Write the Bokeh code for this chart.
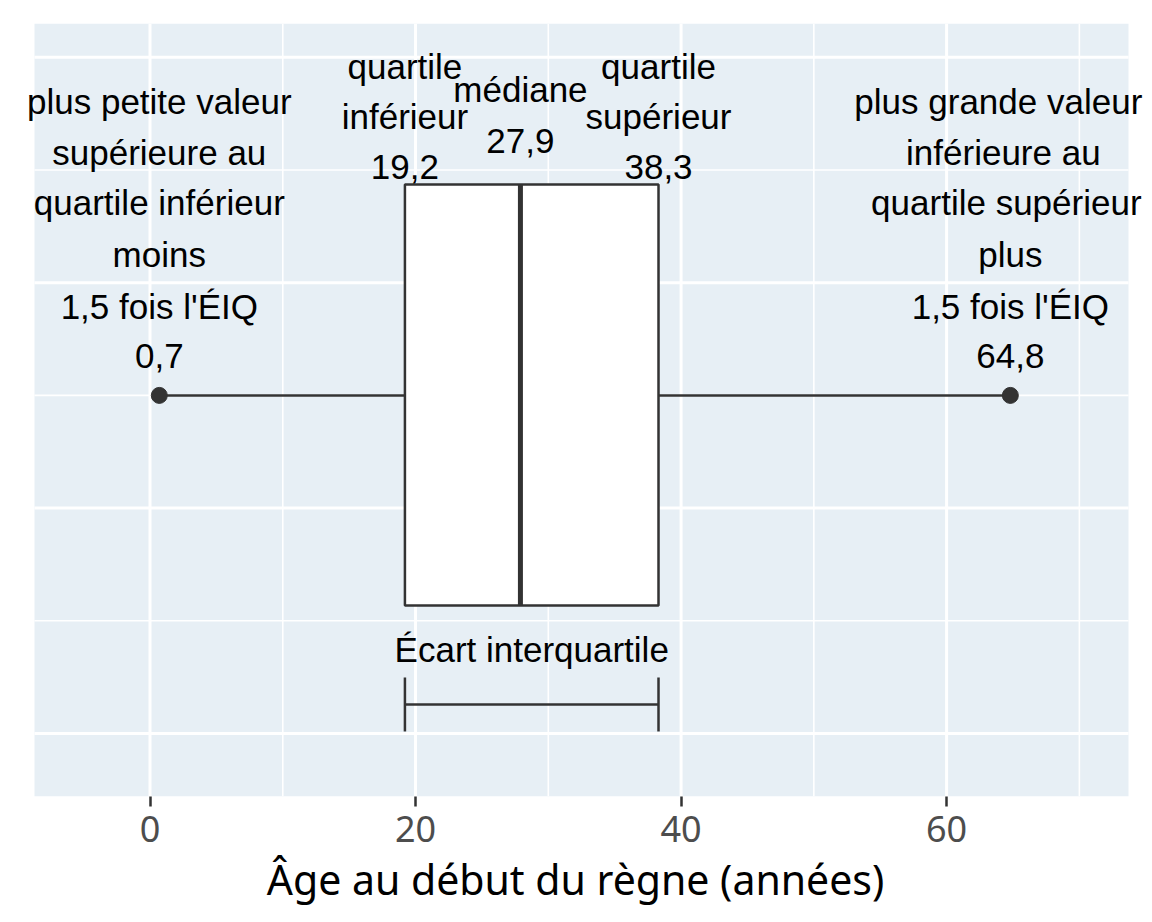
from bokeh.plotting import figure
from bokeh.models import FixedTicker, Range1d, Label
from bokeh.embed import file_html
from bokeh.resources import INLINE

# --- data ---
stat_names = ["min_whisker", "q1", "median", "q3", "max_whisker"]
stat_values = [0.7, 19.2, 27.9, 38.3, 64.8]
x_ticks = [0, 20, 40, 60]
x_minor = [10, 30, 50, 70]
y_major = [0, 2, 4, 6]
y_minor = [1, 3, 5]
x_label = "Âge au début du règne (années)"
lo_lines = ["plus petite valeur", "supérieure au", "quartile inférieur", "moins", "1,5 fois l'ÉIQ"]
hi_lines = ["plus grande valeur", "inférieure au", "quartile supérieur", "plus", "1,5 fois l'ÉIQ"]
q1_lines = ["quartile", "inférieur"]
med_lines = ["médiane"]
q3_lines = ["quartile", "supérieur"]
iqr_label = "Écart interquartile"

wlo, q1, med, q3, whi = stat_values
fmt = lambda v: f"{v:.1f}".replace(".", ",")

# panel extent (data units) and the wider drawing frame, so labels may overflow the panel
PX0, PX1, PY0, PY1 = -8.7, 73.7, -0.559, 6.30
scale = 1094 / (PX1 - PX0)
FX0 = PX0 - 33 / scale
FX1 = PX1 + 21 / scale

W, H = 1150, 914
p = figure(width=W, height=H, output_backend="svg", toolbar_location=None,
           x_range=Range1d(FX0, FX1), y_range=Range1d(PY0, PY1),
           min_border_left=1, min_border_right=1, min_border_top=23, min_border_bottom=118)
p.background_fill_color = "white"
p.border_fill_color = "white"
p.outline_line_color = None
p.xgrid.visible = False
p.ygrid.visible = False

# panel background and grid
p.quad(left=[PX0], right=[PX1], bottom=[PY0], top=[PY1], fill_color="#E7EFF5", line_color=None)
p.segment(x0=x_ticks, y0=[PY0] * len(x_ticks), x1=x_ticks, y1=[PY1] * len(x_ticks),
          line_color="white", line_width=3)
p.segment(x0=x_minor, y0=[PY0] * len(x_minor), x1=x_minor, y1=[PY1] * len(x_minor),
          line_color="white", line_width=1.6)
p.segment(x0=[PX0] * len(y_major), y0=y_major, x1=[PX1] * len(y_major), y1=y_major,
          line_color="white", line_width=3)
p.segment(x0=[PX0] * len(y_minor), y0=y_minor, x1=[PX1] * len(y_minor), y1=y_minor,
          line_color="white", line_width=1.6)

p.yaxis.visible = False
ax = p.xaxis[0]
ax.ticker = FixedTicker(ticks=x_ticks)
ax.axis_line_color = None
ax.major_tick_line_color = "#333333"
ax.major_tick_line_width = 2.5
ax.major_tick_out = 10
ax.major_tick_in = 0
ax.minor_tick_line_color = None
ax.major_label_text_font = "Noto Sans"
ax.major_label_text_font_size = "36px"
ax.major_label_text_color = "#4D4D4D"
ax.major_label_standoff = 9
ax.axis_label = x_label
ax.axis_label_text_font = "Noto Sans"
ax.axis_label_text_font_size = "41px"
ax.axis_label_text_font_style = "normal"
ax.axis_label_text_color = "black"
ax.axis_label_standoff = 6

line_col = "#333333"
box_bottom, box_top, yc = 1.136, 4.871, 3.0

# whiskers
p.segment(x0=[wlo, q3], y0=[yc, yc], x1=[q1, whi], y1=[yc, yc], line_color=line_col, line_width=2.5)
# box
p.quad(left=[q1], right=[q3], bottom=[box_bottom], top=[box_top], fill_color="white",
       line_color=line_col, line_width=2.5)
# median
p.segment(x0=[med], y0=[box_bottom], x1=[med], y1=[box_top], line_color=line_col, line_width=5)
# endpoints
p.scatter(x=[wlo, whi], y=[yc, yc], size=16, color=line_col)

# IQR bracket
yb = 0.257
p.segment(x0=[q1], y0=[yb], x1=[q3], y1=[yb], line_color=line_col, line_width=2.5)
p.segment(x0=[q1, q3], y0=[0.018, 0.018], x1=[q1, q3], y1=[0.497, 0.497], line_color=line_col, line_width=2.5)

# labels
FS = "35px"
dy = 0.098
side_y = [v + dy for v in [5.510, 5.058, 4.614, 4.153, 3.691, 3.248]]
top3_y = [v + dy for v in [5.821, 5.377, 4.933]]
med_y = [v + dy for v in [5.617, 5.155]]
hi_shift = [-12, -7, -4, 0, 0, 0]

entries = []
for lines, x, yy, shifts in [(lo_lines + [fmt(wlo)], wlo, side_y, [0] * 6),
                             (hi_lines + [fmt(whi)], whi, side_y, hi_shift),
                             (q1_lines + [fmt(q1)], q1, top3_y, [0] * 3),
                             (med_lines + [fmt(med)], med, med_y, [0] * 2),
                             (q3_lines + [fmt(q3)], q3, top3_y, [0] * 3)]:
    for t, y, s in zip(lines, yy, shifts):
        entries.append((t, x, y, s))
entries.append((iqr_label, (q1 + q3) / 2, 0.648 + dy, 0))

for t, x, y, s in entries:
    p.add_layout(Label(x=x, y=y, x_offset=s, text=t, text_font="Liberation Sans", text_font_size=FS,
                       text_align="center", text_baseline="alphabetic", text_color="black"))

open("out.html", "w").write(file_html(p, INLINE))
